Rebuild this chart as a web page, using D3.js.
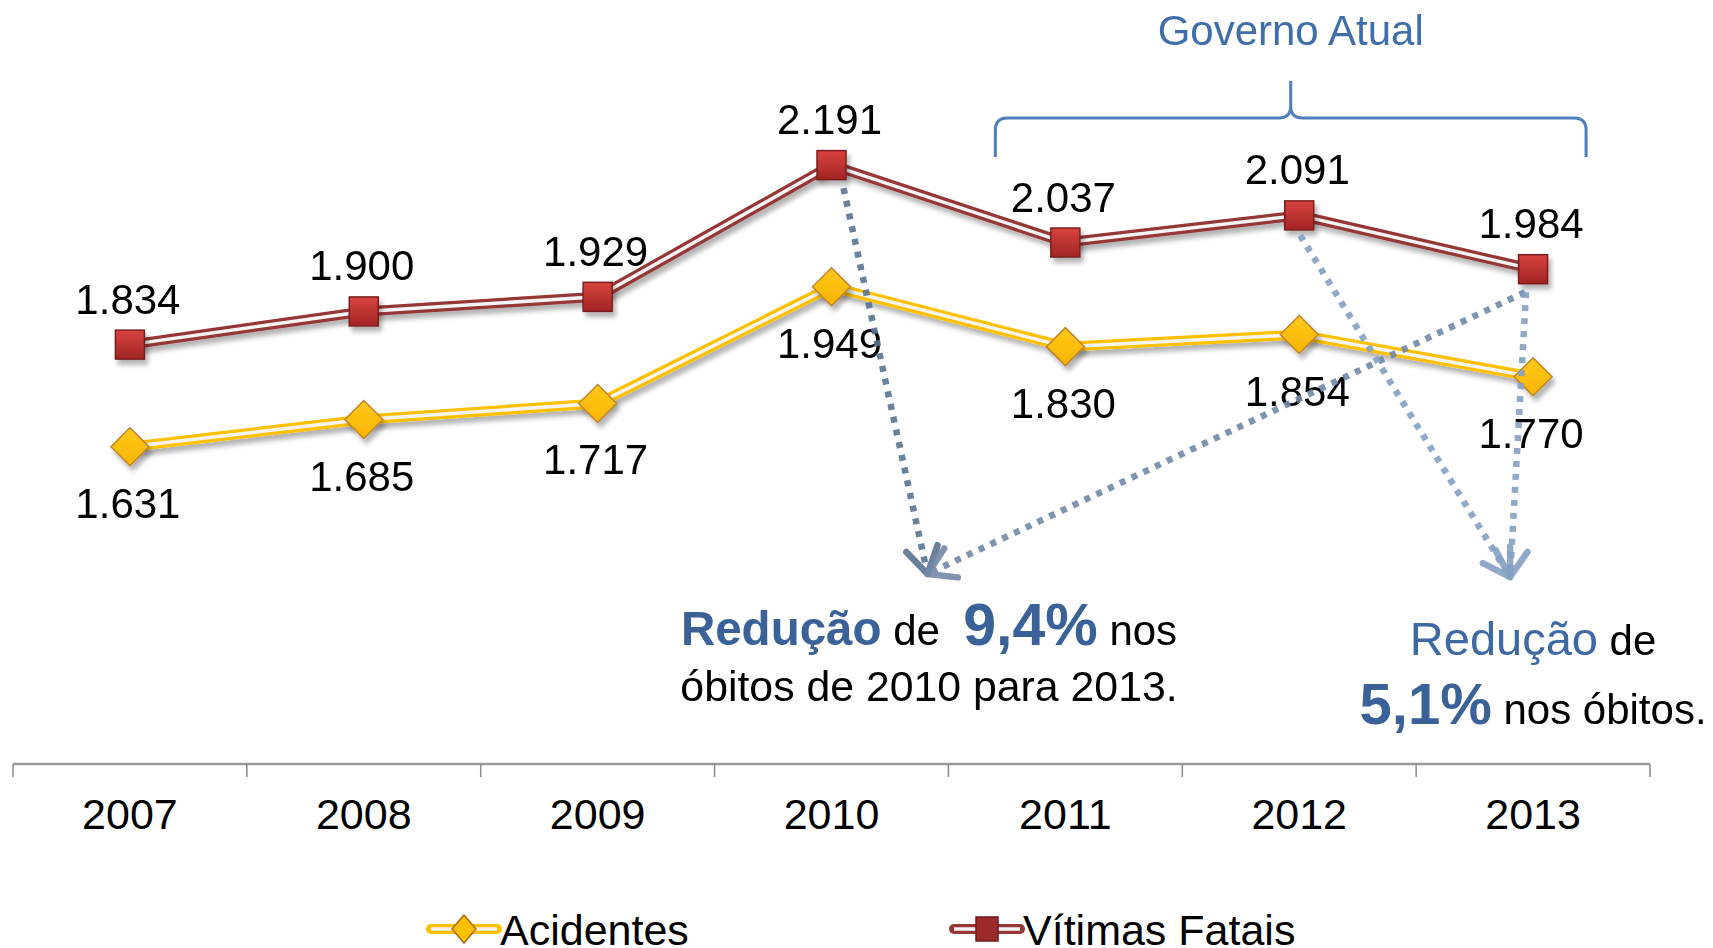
<!DOCTYPE html>
<html>
<head>
<meta charset="utf-8">
<script src="https://cdn.jsdelivr.net/npm/d3@7/dist/d3.min.js"></script>
<style>
    body { margin: 0; background: #fff; }
    svg { display: block; font-family: "Liberation Sans", Arial, sans-serif; }
    text { white-space: pre; }
</style>
</head>
<body>
<svg id="Target" width="1713" height="948"></svg>
<script>
// data
var years = ["2007", "2008", "2009", "2010", "2011", "2012", "2013"];
var acidentes = [1631, 1685, 1717, 1949, 1830, 1854, 1770];
var vitimas = [1834, 1900, 1929, 2191, 2037, 2091, 1984];
var seriesNames = ["Acidentes", "Vítimas Fatais"];
var yDomain = [1000, 2400];

var svg = d3.select("#Target");
var ptBR = d3.formatLocale({ decimal: ",", thousands: ".", grouping: [3], currency: ["R$", ""] });
var fmt = ptBR.format(",");

var x = d3.scaleBand().domain(years).range([13, 1650]).padding(0);
var y = d3.scaleLinear().domain(yDomain).range([764, 60]);
var cx = function (d) { return x(d) + x.bandwidth() / 2; };

var defs = svg.append("defs");
// drop shadow for lines and markers
var shadow = defs.append("filter").attr("id", "shadow")
    .attr("x", "-20%").attr("y", "-20%").attr("width", "140%").attr("height", "160%");
shadow.append("feGaussianBlur").attr("in", "SourceAlpha").attr("stdDeviation", 2.5);
shadow.append("feOffset").attr("dx", 3).attr("dy", 5).attr("result", "off");
shadow.append("feComponentTransfer").append("feFuncA").attr("type", "linear").attr("slope", 0.3);
var merge = shadow.append("feMerge");
merge.append("feMergeNode");
merge.append("feMergeNode").attr("in", "SourceGraphic");

var redGrad = defs.append("linearGradient").attr("id", "redGrad")
    .attr("x1", 0).attr("y1", 0).attr("x2", 0).attr("y2", 1);
redGrad.append("stop").attr("offset", "0%").attr("stop-color", "#d8433f");
redGrad.append("stop").attr("offset", "100%").attr("stop-color", "#a22424");
var yelGrad = defs.append("linearGradient").attr("id", "yelGrad")
    .attr("x1", 0).attr("y1", 0).attr("x2", 0).attr("y2", 1);
yelGrad.append("stop").attr("offset", "0%").attr("stop-color", "#ffc81a");
yelGrad.append("stop").attr("offset", "100%").attr("stop-color", "#f7b500");

// arrow heads
var arrowColors = { dark: "#5a7492", mid: "#7389a7", light: "#86a0c2" };
Object.keys(arrowColors).forEach(function (k) {
    defs.append("marker")
        .attr("id", "arrow-" + k)
        .attr("viewBox", "-34 -22 38 44")
        .attr("refX", 0).attr("refY", 0)
        .attr("markerWidth", 38).attr("markerHeight", 44)
        .attr("markerUnits", "userSpaceOnUse")
        .attr("orient", "auto")
        .append("path")
        .attr("d", "M-26,-16 L0,0 L-26,16")
        .attr("fill", "none")
        .attr("stroke", arrowColors[k])
        .attr("stroke-width", 6.5)
        .attr("stroke-linecap", "round")
        .attr("stroke-linejoin", "round");
});

// x axis
var axisY = y(yDomain[0]);
svg.append("line")
    .attr("x1", x.range()[0]).attr("x2", x.range()[1])
    .attr("y1", axisY).attr("y2", axisY)
    .attr("stroke", "#9a9a9a").attr("stroke-width", 2.5);
var tickPos = years.map(function (d) { return x(d); }).concat([x.range()[1]]);
svg.selectAll("line.tick")
    .data(tickPos)
    .enter()
    .append("line")
    .attr("class", "tick")
    .attr("x1", function (d) { return d; }).attr("x2", function (d) { return d; })
    .attr("y1", axisY).attr("y2", axisY + 13)
    .attr("stroke", "#8a8a8a").attr("stroke-width", 1.5);
svg.selectAll("text.year")
    .data(years)
    .enter()
    .append("text")
    .attr("class", "year")
    .attr("x", cx)
    .attr("y", axisY + 65)
    .attr("text-anchor", "middle")
    .attr("font-size", 43)
    .attr("fill", "#000")
    .text(function (d) { return d; });

// lines
var line = d3.line()
    .x(function (d, i) { return cx(years[i]); })
    .y(function (d) { return y(d); });

var series = [
    { name: seriesNames[0], values: acidentes, color: "#ffc000" },
    { name: seriesNames[1], values: vitimas, color: "#953735" }
];
series.forEach(function (s) {
    var g = svg.append("g").attr("filter", "url(#shadow)");
    g.append("path").attr("d", line(s.values))
        .attr("fill", "none").attr("stroke", s.color).attr("stroke-width", 10)
        .attr("stroke-linejoin", "round");
    g.append("path").attr("d", line(s.values))
        .attr("fill", "none").attr("stroke", "#f4f4f4").attr("stroke-width", 3.5)
        .attr("stroke-linejoin", "round");
});

// markers
svg.append("g").attr("filter", "url(#shadow)")
    .selectAll("path.diamond")
    .data(acidentes)
    .enter()
    .append("path")
    .attr("class", "diamond")
    .attr("transform", function (d, i) { return "translate(" + cx(years[i]) + "," + y(d) + ")"; })
    .attr("d", "M0,-19 L19,0 L0,19 L-19,0 Z")
    .attr("fill", "url(#yelGrad)")
    .attr("stroke", "#c0842a")
    .attr("stroke-width", 1.5);
svg.append("g").attr("filter", "url(#shadow)")
    .selectAll("rect.square")
    .data(vitimas)
    .enter()
    .append("rect")
    .attr("class", "square")
    .attr("x", function (d, i) { return cx(years[i]) - 14.5; })
    .attr("y", function (d) { return y(d) - 14.5; })
    .attr("width", 29).attr("height", 29)
    .attr("fill", "url(#redGrad)")
    .attr("stroke", "#7a1f1f")
    .attr("stroke-width", 1.5);

// data labels
svg.selectAll("text.labV")
    .data(vitimas)
    .enter()
    .append("text")
    .attr("class", "labV")
    .attr("x", function (d, i) { return cx(years[i]) - 2; })
    .attr("y", function (d) { return y(d) - 31; })
    .attr("text-anchor", "middle")
    .attr("font-size", 42)
    .text(function (d) { return fmt(d); });
svg.selectAll("text.labA")
    .data(acidentes)
    .enter()
    .append("text")
    .attr("class", "labA")
    .attr("x", function (d, i) { return cx(years[i]) - 2; })
    .attr("y", function (d) { return y(d) + 71; })
    .attr("text-anchor", "middle")
    .attr("font-size", 42)
    .text(function (d) { return fmt(d); });

// dotted arrows
var tipLeft = [cx("2010") + 96, 574];
var tipRight = [cx("2013") - 23, 577];
var arrows = [
    { from: [cx("2010") + 12, y(vitimas[3]) + 23], to: tipLeft, c: "dark" },
    { from: [cx("2013") - 8, y(vitimas[6]) + 23], to: tipLeft, c: "mid" },
    { from: [cx("2012") + 1, y(vitimas[5]) + 20], to: tipRight, c: "light" },
    { from: [cx("2013") - 7, y(vitimas[6]) + 23], to: tipRight, c: "light" }
];
svg.selectAll("path.arrow")
    .data(arrows)
    .enter()
    .append("path")
    .attr("class", "arrow")
    .attr("d", function (d) { return "M" + d.from[0] + "," + d.from[1] + "L" + d.to[0] + "," + d.to[1]; })
    .attr("fill", "none")
    .attr("stroke", function (d) { return arrowColors[d.c]; })
    .attr("stroke-width", 6.5)
    .attr("stroke-dasharray", "6 7")
    .attr("opacity", 0.9)
    .attr("marker-end", function (d) { return "url(#arrow-" + d.c + ")"; });

// brace over "Governo Atual"
var bL = cx("2011") - 70, bR = cx("2013") + 53, bM = (bL + bR) / 2;
var yEnd = 157, yH = 118, yPk = 81, r = 12;
svg.append("path")
    .attr("d", "M" + bL + "," + yEnd + " L" + bL + "," + (yH + r) +
        " Q" + bL + "," + yH + " " + (bL + r) + "," + yH +
        " L" + (bM - r) + "," + yH +
        " Q" + bM + "," + yH + " " + bM + "," + (yH - r) +
        " L" + bM + "," + yPk +
        " M" + bM + "," + (yH - r) +
        " Q" + bM + "," + yH + " " + (bM + r) + "," + yH +
        " L" + (bR - r) + "," + yH +
        " Q" + bR + "," + yH + " " + bR + "," + (yH + r) +
        " L" + bR + "," + yEnd)
    .attr("fill", "none")
    .attr("stroke", "#4f7fbd")
    .attr("stroke-width", 3);
svg.append("text")
    .attr("x", bM).attr("y", 45)
    .attr("text-anchor", "middle")
    .attr("font-size", 42)
    .attr("fill", "#3f6eaa")
    .text("Governo Atual");

// annotation texts
var blue = "#3a6298";
var t1 = svg.append("text").attr("x", 929).attr("y", 645).attr("text-anchor", "middle").attr("font-size", 42);
t1.append("tspan").attr("font-weight", "bold").attr("font-size", 47.5).attr("fill", blue).text("Redução");
t1.append("tspan").text(" de  ");
t1.append("tspan").attr("font-weight", "bold").attr("font-size", 59).attr("fill", blue).text("9,4%");
t1.append("tspan").text(" nos");
svg.append("text").attr("x", 929).attr("y", 701).attr("text-anchor", "middle").attr("font-size", 42.8)
    .text("óbitos de 2010 para 2013.");

var t2 = svg.append("text").attr("x", cx("2013")).attr("y", 655).attr("text-anchor", "middle").attr("font-size", 42);
t2.append("tspan").attr("font-size", 47).attr("fill", "#3d69a4").text("Redução");
t2.append("tspan").text(" de");
var t3 = svg.append("text").attr("x", cx("2013")).attr("y", 724).attr("text-anchor", "middle").attr("font-size", 42);
t3.append("tspan").attr("font-weight", "bold").attr("font-size", 58).attr("fill", blue).text("5,1%");
t3.append("tspan").text(" nos óbitos.");

// legend
var legend = [
    { name: seriesNames[0], x: 431, color: "#ffc000", shape: "diamond" },
    { name: seriesNames[1], x: 954, color: "#953735", shape: "square" }
];
var legY = 929;
legend.forEach(function (l) {
    var g = svg.append("g").attr("transform", "translate(" + l.x + "," + legY + ")");
    g.append("line").attr("x1", 0).attr("x2", 66).attr("stroke", l.color)
        .attr("stroke-width", 10).attr("stroke-linecap", "round");
    g.append("line").attr("x1", 0).attr("x2", 66).attr("stroke", "#f4f4f4")
        .attr("stroke-width", 3.5);
    if (l.shape === "diamond") {
        g.append("path").attr("d", "M33,-14 L45,0 L33,14 L21,0 Z")
            .attr("fill", "#ffc000").attr("stroke", "#b06a10").attr("stroke-width", 1.5);
    } else {
        g.append("rect").attr("x", 22).attr("y", -12).attr("width", 22).attr("height", 24)
            .attr("fill", "#9e2b2b").attr("stroke", "#6e1b1b").attr("stroke-width", 1.5);
    }
    g.append("text").attr("x", 69).attr("y", 16).attr("font-size", 43).text(l.name);
});
</script>
</body>
</html>
